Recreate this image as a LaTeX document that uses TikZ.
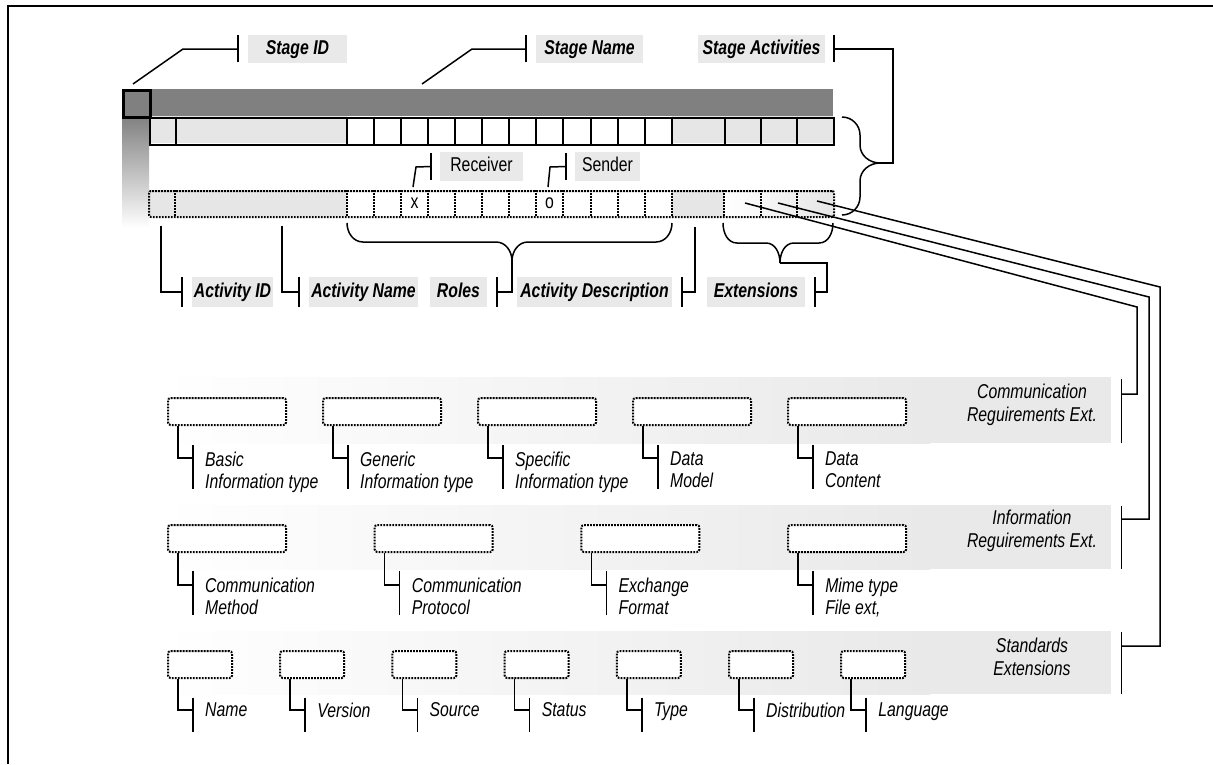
\documentclass[tikz,border=0pt]{standalone}
\usepackage{fontspec}
\setmainfont{Liberation Sans}[FakeStretch=0.79]
\usetikzlibrary{calc}
\definecolor{darkbar}{HTML}{808080}
\definecolor{lgray}{HTML}{E6E6E6}
\definecolor{bgray}{HTML}{E9E9E9}
\newcommand\myfs{\fontsize{20}{22}\selectfont}
\begin{document}
\begin{tikzpicture}[x=1pt,y=-1pt,
  conn/.style={line width=1.5pt, black},
  lbl/.style={fill=bgray, inner sep=0pt, font=\myfs\bfseries\itshape, text height=14.3pt, text depth=3.8pt},
  rlbl/.style={fill=bgray, inner sep=0pt, font=\myfs, text height=14.3pt, text depth=3.8pt},
  itl/.style={inner sep=0pt, font=\myfs\itshape, align=left},
  btxt/.style={inner sep=0pt, font=\fontsize{20}{23.5}\selectfont\itshape, align=center},
  dots/.style={line width=2pt, dash pattern=on 1.8pt off 1.2pt},
  dbox/.style={draw, dots, rounded corners=2.5pt, inner sep=0pt, fill=white},
  cellline/.style={line width=2pt}]
\useasboundingbox (0,0) rectangle (1213,764);
% frame
\draw[line width=2.2pt] (8,764) -- (8,6) -- (1213,6);

% ---------- stage bar ----------
\node[fill=darkbar, minimum width=711, minimum height=27, inner sep=0pt, anchor=north west] (bar) at (122,89) {};
\shade[top color=darkbar, bottom color=white] (122,116) rectangle (149,228);
% top row cells
\fill[lgray] (149,116) rectangle (347,143);
\fill[lgray] (671.7,116) rectangle (833,143);
\node[draw, cellline, minimum width=684, minimum height=27, inner sep=0pt, anchor=north west] (toprow) at (149,116.5) {};
\foreach \x in {176,347,725,761,797} \draw[cellline] (\x,116.5) -- (\x,143.5);
\foreach \i in {1,...,12} \draw[cellline] ({347+27.06*\i},116.5) -- ({347+27.06*\i},143.5);
\node[draw, line width=2.5pt, fill=darkbar, minimum size=27, inner sep=0pt, anchor=north west] (sq) at (122,89) {};

% activity (dotted) row
\fill[lgray] (149,190) rectangle (347,216);
\fill[lgray] (671.7,190) rectangle (724,216);
\shade[left color=white, right color=lgray] (724,190) rectangle (833,216);
\node[draw, dots, rounded corners=2pt, minimum width=685, minimum height=26, inner sep=0pt, anchor=north west] (actrow) at (148,190) {};
\foreach \x in {175,347,724,761,797} \draw[dots] (\x,190) -- (\x,216);
\foreach \i in {1,...,12} \draw[dots] ({347+27.06*\i},190) -- ({347+27.06*\i},216);
\node[inner sep=0pt, font=\myfs] (xmark) at (414.5,203) {x};
\node[inner sep=0pt, font=\myfs] (omark) at (549.5,203) {o};

% ---------- top labels ----------
\node[lbl, minimum width=99, minimum height=28] (sid) at (297.5,49) {Stage ID};
\node[lbl, minimum width=107, minimum height=28] (sname) at (589.5,49) {Stage Name};
\node[lbl, minimum width=127, minimum height=28] (sact) at (761.5,49) {Stage Activities};
\node[rlbl, minimum width=83, minimum height=29] (recv) at (481.5,166.5) {Receiver};
\node[rlbl, minimum width=65, minimum height=29] (send) at (607.5,166.5) {Sender};

\coordinate (sidA) at (133,84);
\coordinate (snA) at (422,84);
\coordinate (rA) at (413,187);
\coordinate (sA) at (548,187);
\coordinate (brtip) at (880,163);

\draw[conn] (sidA) -- (183,49) -- ([xshift=-10pt]sid.west);
\draw[conn] ([xshift=-10pt,yshift=-0pt]sid.north west) -- ([xshift=-10pt,yshift=1pt]sid.south west);
\draw[conn] (snA) -- (472,49) -- ([xshift=-10pt]sname.west);
\draw[conn] ([xshift=-10pt]sname.north west) -- ([xshift=-10pt,yshift=1pt]sname.south west);
\draw[conn] ([xshift=9pt]sact.north east) -- ([xshift=9pt,yshift=1pt]sact.south east);
\draw[conn] ([xshift=9pt]sact.east) -- (893,49) -- (893,163) -- (brtip);
\draw[conn] (842,117) to[out=0,in=90] (860,135) -- (860,145) to[out=-90,in=180] (brtip)
  to[out=180,in=90] (860,181) -- (860,197) to[out=-90,in=0] (842,215);
\draw[conn] (rA) -- (416,167) -- ([xshift=-9pt]recv.west);
\draw[conn] ([xshift=-9pt,yshift=-1pt]recv.north west) -- ([xshift=-9pt,yshift=1pt]recv.south west);
\draw[conn] (sA) -- (550,167) -- ([xshift=-9pt]send.west);
\draw[conn] ([xshift=-9pt,yshift=-1pt]send.north west) -- ([xshift=-9pt,yshift=1pt]send.south west);

% ---------- bottom labels ----------
\node[lbl, minimum width=81, minimum height=30] (aid) at (232.5,292) {Activity ID};
\node[lbl, minimum width=109, minimum height=30] (aname) at (363.5,292) {Activity Name};
\node[lbl, minimum width=57, minimum height=30] (roles) at (458.5,292) {Roles};
\node[lbl, minimum width=155, minimum height=30] (adesc) at (594.5,292) {Activity Description};
\node[lbl, minimum width=98, minimum height=30] (ext) at (756,292) {Extensions};

\coordinate (rolestip) at (512,261);
\coordinate (exttip) at (780,263);

\draw[conn] (161,226) |- ([xshift=-10pt]aid.west);
\draw[conn] ([xshift=-10pt]aid.north west) -- ([xshift=-10pt]aid.south west);
\draw[conn] (282,226) |- ([xshift=-10pt]aname.west);
\draw[conn] ([xshift=-10pt]aname.north west) -- ([xshift=-10pt]aname.south west);
\draw[conn] (347,223) to[out=-90,in=180] (363,242) -- (496,242) to[out=0,in=90] (rolestip)
  to[out=90,in=180] (528,242) -- (656,242) to[out=0,in=-90] (672,223);
\draw[conn] (rolestip) |- ([xshift=10pt]roles.east);
\draw[conn] ([xshift=10pt]roles.north east) -- ([xshift=10pt]roles.south east);
\draw[conn] (695,227) |- ([xshift=10pt]adesc.east);
\draw[conn] ([xshift=10pt]adesc.north east) -- ([xshift=10pt]adesc.south east);
\draw[conn] (723,223) to[out=-90,in=180] (737,243) -- (766,243) to[out=0,in=90] (exttip)
  to[out=90,in=180] (794,243) -- (819,243) to[out=0,in=-90] (833,223);
\draw[conn] (exttip) -- (827,263) |- ([xshift=10pt]ext.east);
\draw[conn] ([xshift=10pt]ext.north east) -- ([xshift=10pt]ext.south east);

% ---------- extension bands ----------
\shade[left color=white, right color=bgray] (160,377) rectangle (930,443);
\fill[bgray] (929,377) rectangle (1111,443);
\node[minimum width=951, minimum height=66, inner sep=0pt, anchor=north west] (bandc) at (160,377) {};
\shade[left color=white, right color=bgray] (160,505) rectangle (930,569);
\fill[bgray] (929,505) rectangle (1111,569);
\node[minimum width=951, minimum height=64, inner sep=0pt, anchor=north west] (bandi) at (160,505) {};
\shade[left color=white, right color=bgray] (160,631) rectangle (930,694);
\fill[bgray] (929,631) rectangle (1111,694);
\node[minimum width=951, minimum height=63, inner sep=0pt, anchor=north west] (bands) at (160,631) {};

\node[btxt] (bandct) at (1032,405) {Communication\\Reguirements Ext.};
\node[btxt] (bandit) at (1032,531) {Information\\Reguirements Ext.};
\node[btxt] (bandst) at (1032,657) {Standards\\Extensions};

\draw[conn] ([xshift=10pt,yshift=-2pt]bandc.north east) -- ([xshift=10pt]bandc.south east);
\draw[conn] ([xshift=10pt,yshift=-1pt]bandi.north east) -- ([xshift=10pt]bandi.south east);
\draw[conn] ([xshift=10pt,yshift=-1pt]bands.north east) -- ([xshift=10pt]bands.south east);

\coordinate (e1) at (745,203);
\coordinate (e2) at (778,203);
\coordinate (e3) at (817,201);
\coordinate (ct) at ($(bandc.north east)+(10,17)$);
\coordinate (it) at ($(bandi.north east)+(10,14)$);
\coordinate (st) at ($(bands.north east)+(10,15)$);
\draw[conn] (e1) -- (1137,307) |- (ct);
\draw[conn] (e2) -- (1149,297) |- (it);
\draw[conn] (e3) -- (1160,287) |- (st);

% communication row
\foreach \i/\a/\b in {0/Basic/Information type,1/Generic/Information type,2/Specific/Information type,3/Data/Model,4/Data/Content}{
  \node[dbox, minimum width=118, minimum height=27, anchor=north west] (c\i) at ({167+155*\i},397) {};
  \node[itl, anchor=north west] (cl\i) at ($(c\i.south west)+(38,25.5)$) {\a\\\b};
  \draw[conn] ([xshift=11pt]c\i.south west) -- ++(0,32) -- ++(15,0);
  \draw[conn] ($(c\i.south west)+(26,19)$) -- ++(0,44);
}
% information row
\foreach \i/\a/\b in {0/Communication/Method,1/Communication/Protocol,2/Exchange/Format,3/Mime type/{File ext,}}{
  \node[dbox, minimum width=118, minimum height=27, anchor=north west] (n\i) at ({167+206.7*\i},524) {};
  \node[itl, anchor=north west] (nl\i) at ($(n\i.south west)+(38,24.5)$) {\a\\\b};
  \draw[conn] ([xshift=11pt]n\i.south west) -- ++(0,32) -- ++(15,0);
  \draw[conn] ($(n\i.south west)+(26,18)$) -- ++(0,44);
}
% standards row
\foreach \i/\t in {0/Name,1/Version,2/Source,3/Status,4/Type,5/Distribution,6/Language}{
  \node[dbox, minimum width=64, minimum height=27, anchor=north west] (s\i) at ({167+112.2*\i},650) {};
  \node[itl, anchor=north west] (sl\i) at ($(s\i.south west)+(38,23.5)$) {\t};
  \draw[conn] ([xshift=11pt]s\i.south west) -- ++(0,31) -- ++(15,0);
  \draw[conn] ($(s\i.south west)+(26,19)$) -- ++(0,34);
}
\end{tikzpicture}
\end{document}
